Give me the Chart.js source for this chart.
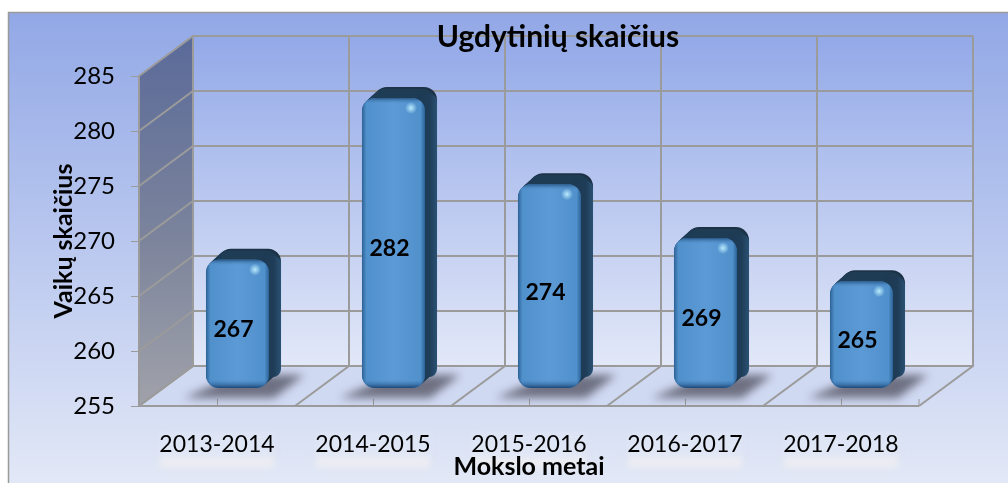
<!DOCTYPE html>
<html><head><meta charset="utf-8">
<style>html,body{margin:0;padding:0;background:#fff}canvas{display:block}</style>
<script src="https://cdn.jsdelivr.net/npm/chart.js@4"></script></head>
<body><div style="width:1008px;height:483px"><canvas id="c" width="1008" height="483"></canvas></div>
<script>
const categories = ["2013-2014","2014-2015","2015-2016","2016-2017","2017-2018"];
const children = [267,282,274,269,265];
const chartTitle = "Ugdytinių skaičius";
const yTitle = "Vaikų skaičius";
const xTitle = "Mokslo metai";
const FONT = "Lato, Carlito, 'Open Sans', sans-serif";
const DX = 54, DY = 40, GRID = "#9b9b9b";

function rr(ctx,x,y,w,h,r){ctx.beginPath();ctx.roundRect(x,y,w,h,r);}
const scene = {
  id:'scene',
  afterLayout(chart){ const t=chart.titleBlock; t.left=108; t.right=1008; },
  beforeDraw(chart){
    const ctx=chart.ctx,{left:L,right:R,top:T,bottom:B}=chart.chartArea,y=chart.scales.y,x=chart.scales.x;
    ctx.save();
    ctx.fillStyle='#fff';ctx.fillRect(0,0,1008,483);
    let g=ctx.createLinearGradient(0,12,0,483);
    g.addColorStop(0,'#92a8e6');g.addColorStop(.5,'#bac8ef');g.addColorStop(1,'#e2e8f6');
    ctx.fillStyle=g;ctx.fillRect(8,12,1000,471);
    ctx.strokeStyle='#9a9a9a';ctx.lineWidth=1.5;ctx.beginPath();ctx.moveTo(8.5,483);ctx.lineTo(8.5,12.5);ctx.lineTo(1008,12.5);ctx.stroke();
    // back wall
    g=ctx.createLinearGradient(0,T-DY,0,B-DY);
    g.addColorStop(0,'#93a9e8');g.addColorStop(1,'#e2e8f8');
    ctx.fillStyle=g;ctx.fillRect(L+DX,T-DY,R-L,B-T);
    // floor
    ctx.fillStyle='#d0d9f2';ctx.beginPath();ctx.moveTo(L,B);ctx.lineTo(R,B);ctx.lineTo(R+DX,B-DY);ctx.lineTo(L+DX,B-DY);ctx.closePath();ctx.fill();
    // side wall
    g=ctx.createLinearGradient(0,T-DY,0,B);
    g.addColorStop(0,'#5a6a99');g.addColorStop(.55,'#7c849c');g.addColorStop(1,'#a0a2aa');
    ctx.fillStyle=g;ctx.beginPath();ctx.moveTo(L,T);ctx.lineTo(L+DX,T-DY);ctx.lineTo(L+DX,B-DY);ctx.lineTo(L,B);ctx.closePath();ctx.fill();
    // horizontal grid
    ctx.strokeStyle=GRID;ctx.lineWidth=2;
    y.ticks.forEach(t=>{const p=y.getPixelForValue(t.value);
      ctx.beginPath();ctx.moveTo(L,p);ctx.lineTo(L+DX,p-DY);ctx.lineTo(R+DX,p-DY);ctx.stroke();});
    // vertical and floor grid at category boundaries
    const n=categories.length;
    for(let i=0;i<=n;i++){const px=L+(R-L)*i/n;
      ctx.beginPath();ctx.moveTo(px,B);ctx.lineTo(px+DX,B-DY);ctx.lineTo(px+DX,T-DY);ctx.stroke();}
    ctx.beginPath();ctx.moveTo(L,T);ctx.lineTo(L,B);ctx.lineTo(R,B);ctx.stroke();
    // x ticks
    ctx.lineWidth=1;
    categories.forEach((c,i)=>{const p=x.getPixelForValue(i);
      ctx.beginPath();ctx.moveTo(p+.5,B);ctx.lineTo(p+.5,B-7);ctx.stroke();});
    ctx.beginPath();ctx.moveTo(R,B);ctx.lineTo(R,B-7);ctx.stroke();
    // label halos
    ctx.filter='blur(3px)';
    categories.forEach((c,i)=>{const p=x.getPixelForValue(i);
      ctx.fillStyle='rgba(238,238,242,.9)';ctx.fillRect(p-57,456,114,12);
      ctx.fillStyle='rgba(226,232,247,.45)';ctx.fillRect(p-58,432,116,25);});
    ctx.restore();
  },
  afterDatasetsDraw(chart){
    const ctx=chart.ctx,meta=chart.getDatasetMeta(0),B=chart.chartArea.bottom;
    const barBottom=388, sx=20.5, depthX=12, depthY=11, rad=13;
    const mapY=p=>barBottom-(B-p)*0.98;
    ctx.save();
    meta.data.forEach((el,i)=>{
      const w=el.width,l=el.x-w/2+sx,r=l+w,top=mapY(el.y)+1,h=barBottom-top;
      // floor shadow
      ctx.save();ctx.filter='blur(4px)';ctx.fillStyle='rgba(78,78,92,.75)';
      ctx.beginPath();ctx.moveTo(l-22,398);ctx.lineTo(l+68,398);ctx.lineTo(l+98,375);ctx.lineTo(l+30,375);ctx.closePath();ctx.fill();ctx.restore();
      // extrusion
      for(let k=depthX;k>0;k--){const f=k/depthX;
        ctx.fillStyle=k>depthX-2?'#1c3347':'#1f3c55';
        rr(ctx,l+k,top-f*depthY,w,h,rad);ctx.fill();}
      // side shading
      const sg=ctx.createLinearGradient(r-6,0,r+depthX,0);
      sg.addColorStop(0,'#1d3a54');sg.addColorStop(.6,'#1f3d58');sg.addColorStop(1,'#2a5274');
      ctx.fillStyle=sg;rr(ctx,r-10,top-depthY+7,10+depthX,h+depthY-18,8);ctx.fill();
      // front
      ctx.fillStyle='#2a5f90';rr(ctx,l,top,w,h,rad);ctx.fill();
      let g=ctx.createLinearGradient(l,0,r,0);
      g.addColorStop(0,'#2c6296');g.addColorStop(.07,'#5090cb');g.addColorStop(.5,'#5c9ad6');g.addColorStop(.93,'#5090cb');g.addColorStop(1,'#2c6296');
      ctx.fillStyle=g;rr(ctx,l,top,w,h,rad);ctx.fill();
      g=ctx.createLinearGradient(0,top,0,barBottom);
      const e=Math.min(9/h,.2);
      g.addColorStop(0,'rgba(35,80,125,.9)');g.addColorStop(e*.7,'rgba(90,155,215,0)');g.addColorStop(1-e*.9,'rgba(60,120,180,0)');g.addColorStop(1,'rgba(25,65,110,.95)');
      ctx.fillStyle=g;rr(ctx,l,top,w,h,rad);ctx.fill();
      // highlight
      g=ctx.createRadialGradient(r-14,top+10,0,r-14,top+10,6);
      g.addColorStop(0,'rgba(190,240,255,.95)');g.addColorStop(1,'rgba(190,240,255,0)');
      ctx.fillStyle=g;ctx.fillRect(r-22,top+2,16,16);
      // value label
      ctx.fillStyle='#000';ctx.font='bold 23px '+FONT;ctx.textAlign='center';ctx.textBaseline='middle';
      ctx.fillText(String(children[i]),l+w/2-4,(top+barBottom)/2+6);
    });
    ctx.restore();
  }
};
new Chart(document.getElementById('c'),{
  type:'bar',
  data:{labels:categories,datasets:[{label:yTitle,data:children,backgroundColor:'rgba(0,0,0,0)',borderWidth:0,categoryPercentage:1,barPercentage:.404}]},
  plugins:[scene],
  options:{
    responsive:false,animation:false,
    layout:{padding:{left:0,right:89,top:0,bottom:0}},
    plugins:{legend:{display:false},tooltip:{enabled:false},
      title:{display:true,text:chartTitle,color:'#000',font:{family:FONT,size:30,weight:'bold',lineHeight:1.2},padding:{top:19,bottom:21}}},
    scales:{
      x:{type:'category',
        afterFit(s){s.height=77;},
        grid:{display:false},border:{display:false},
        ticks:{color:'#000',font:{family:FONT,size:23},padding:17,maxRotation:0},
        title:{display:true,text:xTitle,color:'#000',font:{family:FONT,size:25,weight:'bold',lineHeight:1.2},padding:{top:0,bottom:1}}},
      y:{min:255,max:285,
        afterFit(s){s.width=139;},
        grid:{drawOnChartArea:false,drawTicks:true,tickLength:8,color:GRID,lineWidth:1},border:{display:false},
        ticks:{stepSize:5,color:'#000',font:{family:FONT,size:24},padding:16},
        title:{display:true,text:yTitle,color:'#000',font:{family:FONT,size:25,weight:'bold',lineHeight:1.2},padding:{top:49,bottom:0}}}
    }
  }
});
</script></body></html>
